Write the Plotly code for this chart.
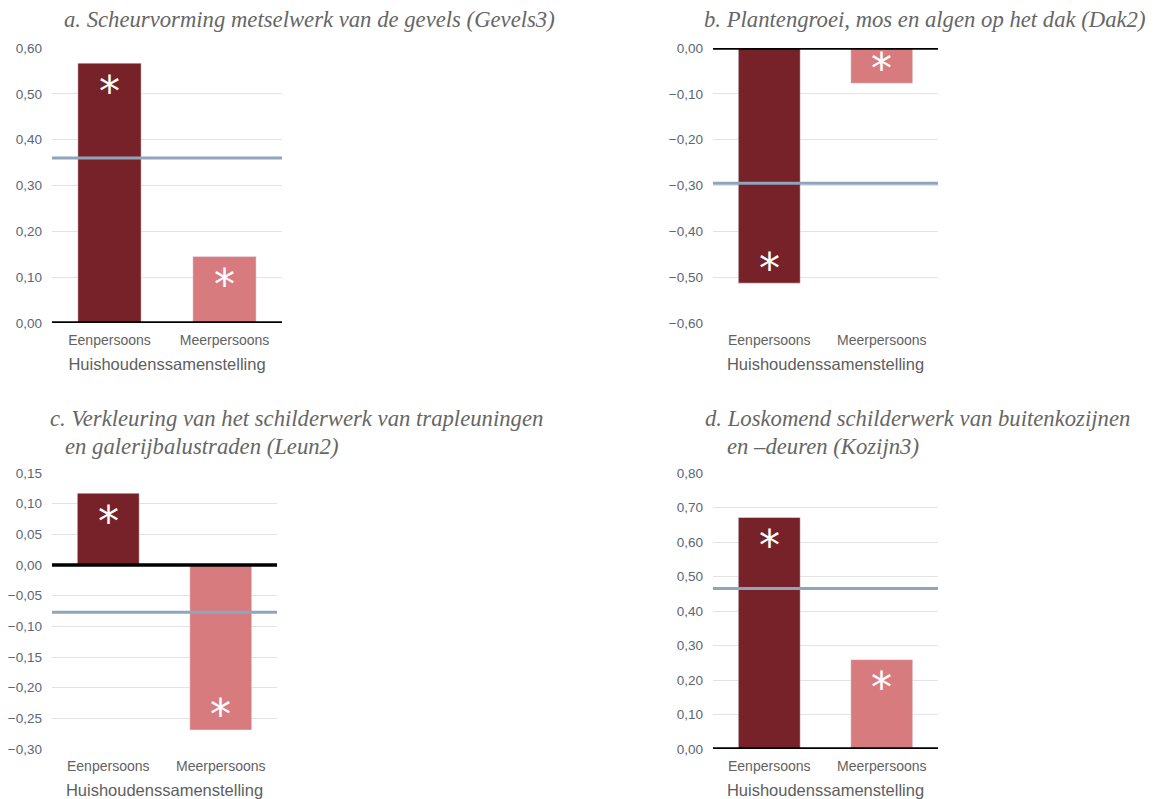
import plotly.graph_objects as go

categories = ["Eenpersoons", "Meerpersoons"]
titles = [
    ["a. Scheurvorming metselwerk van de gevels (Gevels3)"],
    ["b. Plantengroei, mos en algen op het dak (Dak2)"],
    ["c. Verkleuring van het schilderwerk van trapleuningen", "en galerijbalustraden (Leun2)"],
    ["d. Loskomend schilderwerk van buitenkozijnen", "en \u2013deuren (Kozijn3)"],
]
values_a = [0.567, 0.145]
values_b = [-0.513, -0.077]
values_c = [0.117, -0.269]
values_d = [0.671, 0.259]
reference = [0.36, -0.295, -0.077, 0.465]
significant = [[True, True], [True, True], [True, True], [True, True]]
ranges = [[0, 0.6], [-0.6, 0], [-0.3, 0.15], [0, 0.8]]
dticks = [0.1, 0.1, 0.05, 0.1]
xaxis_title = "Huishoudenssamenstelling"

all_values = [values_a, values_b, values_c, values_d]
bar_colors = ["#762228", "#d77b7f"]

W, H = 1162, 799
# pixel boxes of plot areas: (x0, x1, ytop, ybottom)
boxes = [(52, 282, 48, 323), (713, 938, 48, 323), (52, 277, 473, 749), (713, 938, 473, 749)]

fig = go.Figure()
for i, vals in enumerate(all_values):
    n = i + 1
    xa = "x" if n == 1 else f"x{n}"
    ya = "y" if n == 1 else f"y{n}"
    fig.add_trace(go.Bar(x=categories, y=vals, marker_color=bar_colors, width=0.55,
                         xaxis=xa, yaxis=ya, showlegend=False))
    x0, x1, yt, yb = boxes[i]
    xk = "xaxis" if n == 1 else f"xaxis{n}"
    yk = "yaxis" if n == 1 else f"yaxis{n}"
    fig.layout[xk] = dict(domain=[x0 / W, x1 / W], anchor=ya, type="category",
                          automargin=False,
                          tickfont=dict(family="Liberation Sans", size=14, color="#626262"),
                          ticklabelstandoff=7,
                          title=dict(text=xaxis_title, standoff=11,
                                     font=dict(family="Liberation Sans", size=16.5, color="#5e5e5e")),
                          showgrid=False, showline=False, ticks="")
    fig.layout[yk] = dict(domain=[1 - yb / H, 1 - yt / H], anchor=xa, range=ranges[i],
                          automargin=False,
                          dtick=dticks[i], tick0=0, tickformat=".2f",
                          tickfont=dict(family="Liberation Sans", size=13.5, color="#5b6677"),
                          showgrid=True, gridcolor="#e3e3e3", gridwidth=1,
                          zeroline=False, ticklabelstandoff=9)
    # reference line
    fig.add_shape(type="line", xref=f"{xa} domain", yref=ya, x0=0, x1=1,
                  y0=reference[i], y1=reference[i], line=dict(color="#8ea5bb", width=3))
    # zero line
    fig.add_shape(type="line", xref=f"{xa} domain", yref=ya, x0=0, x1=1,
                  y0=0, y1=0, line=dict(color="#000000", width=3.5), layer="above")
    for c, v, s in zip(categories, vals, significant[i]):
        if s:
            fig.add_annotation(x=c, y=v, xref=xa, yref=ya, text="*", showarrow=False,
                               yshift=-28 if v > 0 else 15,
                               font=dict(family="DejaVu Sans", size=42, color="white"))

# titles
title_pos = [[(62, 20)], [(702, 20)], [(48, 418), (63, 446)], [(703, 418), (725, 446)]]
for lines, pos in zip(titles, title_pos):
    for text, (px, py) in zip(lines, pos):
        fig.add_annotation(x=px / W, y=1 - py / H, xref="paper", yref="paper", text=text,
                           xanchor="left", yanchor="middle", showarrow=False,
                           font=dict(family="Liberation Serif", size=22.7, color="#666666",
                                     style="italic"))

fig.update_layout(width=W, height=H, margin=dict(l=0, r=0, t=0, b=0),
                  plot_bgcolor="white", paper_bgcolor="white", separators=",.",
                  bargap=0.45)
fig.write_html("out.html")
